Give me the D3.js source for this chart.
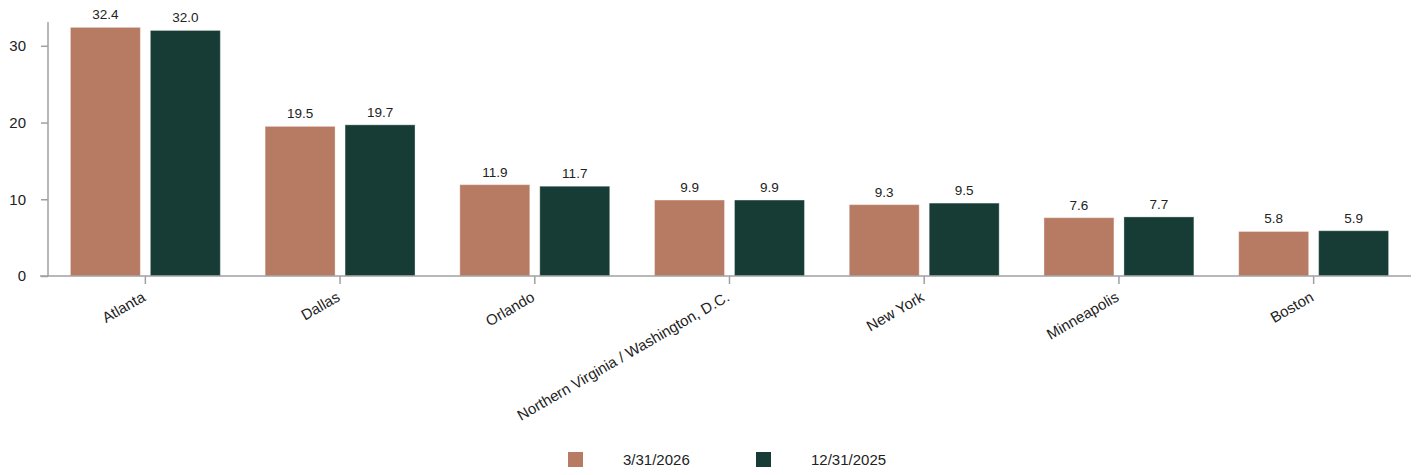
<!DOCTYPE html>
<html>
<head>
<meta charset="utf-8">
<script src="https://cdn.jsdelivr.net/npm/d3@7"></script>
<style>
  body { margin: 0; background: #fff; }
  svg { display: block; font-family: 'Liberation Sans', Arial, sans-serif; }
</style>
</head>
<body>
<div id="chart"></div>
<script>
const markets = ['Atlanta', 'Dallas', 'Orlando', 'Northern Virginia / Washington, D.C.', 'New York', 'Minneapolis', 'Boston'];
const seriesNames = ['3/31/2026', '12/31/2025'];
const valuesMar2026 = [32.4, 19.5, 11.9, 9.9, 9.3, 7.6, 5.8];
const valuesDec2025 = [32.0, 19.7, 11.7, 9.9, 9.5, 7.7, 5.9];
const yTicks = [0, 10, 20, 30];
const colors = ['#b67b62', '#163c35'];

const width = 1419, height = 475;
const plotLeft = 48, plotRight = 1411, plotTop = 22, plotBottom = 276;

const svg = d3.select('#chart').append('svg')
    .attr('width', width)
    .attr('height', height);

const x = d3.scaleBand()
    .domain(markets)
    .range([plotLeft, plotRight]);

const xInner = d3.scaleBand()
    .domain(seriesNames)
    .range([22.4, x.bandwidth() - 22.4])
    .paddingInner(0.125);

const y = d3.scaleLinear()
    .domain([0, 33.1])
    .range([plotBottom, plotTop]);

const rows = markets.map((m, i) => ({
    market: m,
    values: [valuesMar2026[i], valuesDec2025[i]]
}));

// Bars
const groups = svg.append('g').selectAll('g.market')
    .data(rows).enter()
    .append('g')
    .attr('class', 'market')
    .attr('transform', d => `translate(${x(d.market)},0)`);

const bars = groups.selectAll('g.bar')
    .data(d => d.values.map((v, j) => ({ series: seriesNames[j], value: v, j })))
    .enter().append('g')
    .attr('class', 'bar');

bars.append('rect')
    .attr('x', d => xInner(d.series))
    .attr('y', d => y(d.value))
    .attr('width', xInner.bandwidth())
    .attr('height', d => plotBottom - y(d.value))
    .attr('fill', d => colors[d.j])
    .attr('stroke', 'rgba(255,255,255,0.35)')
    .attr('stroke-width', 1);

// Value labels
bars.append('text')
    .attr('x', d => xInner(d.series) + xInner.bandwidth() / 2)
    .attr('y', d => y(d.value) - 8)
    .attr('text-anchor', 'middle')
    .attr('font-size', 13.5)
    .attr('fill', '#222')
    .text(d => d.value.toFixed(1));

// Y axis
const yAxis = d3.axisLeft(y).tickValues(yTicks).tickSize(7).tickSizeOuter(0).tickPadding(15);
const yg = svg.append('g')
    .attr('transform', `translate(${plotLeft},0)`)
    .call(yAxis);
yg.select('.domain').attr('stroke', '#a0a0a0').attr('stroke-width', 1.5)
    .attr('d', `M0,${plotTop}V${plotBottom}`);
yg.selectAll('.tick line').attr('stroke', '#a0a0a0').attr('stroke-width', 1.5);
yg.selectAll('.tick text')
    .attr('font-size', 15)
    .attr('font-family', null)
    .attr('fill', '#222');
yg.attr('font-family', null);

// X axis
const xAxis = d3.axisBottom(x).tickSize(8).tickSizeOuter(0).tickFormat('');
const xg = svg.append('g')
    .attr('transform', `translate(0,${plotBottom})`)
    .call(xAxis);
xg.select('.domain').remove();
xg.selectAll('.tick line').attr('stroke', '#a0a0a0').attr('stroke-width', 1.5);
xg.append('line')
    .attr('x1', 40).attr('x2', plotRight)
    .attr('stroke', '#a0a0a0')
    .attr('stroke-width', 1.5);

svg.append('g').selectAll('text')
    .data(markets).enter()
    .append('text')
    .attr('transform', d => `translate(${x(d) + x.bandwidth() / 2 + 1},${plotBottom + 24}) rotate(-30)`)
    .attr('text-anchor', 'end')
    .attr('font-size', 15)
    .attr('fill', '#222')
    .text(d => d);

// Legend
const legend = svg.append('g').selectAll('g.legend')
    .data(seriesNames).enter()
    .append('g')
    .attr('class', 'legend')
    .attr('transform', (d, i) => `translate(${568 + i * 188},452)`);

legend.append('rect')
    .attr('width', 15)
    .attr('height', 15)
    .attr('fill', (d, i) => colors[i]);

legend.append('text')
    .attr('x', 55)
    .attr('y', 13)
    .attr('font-size', 15)
    .attr('fill', '#222')
    .text(d => d);
</script>
</body>
</html>
